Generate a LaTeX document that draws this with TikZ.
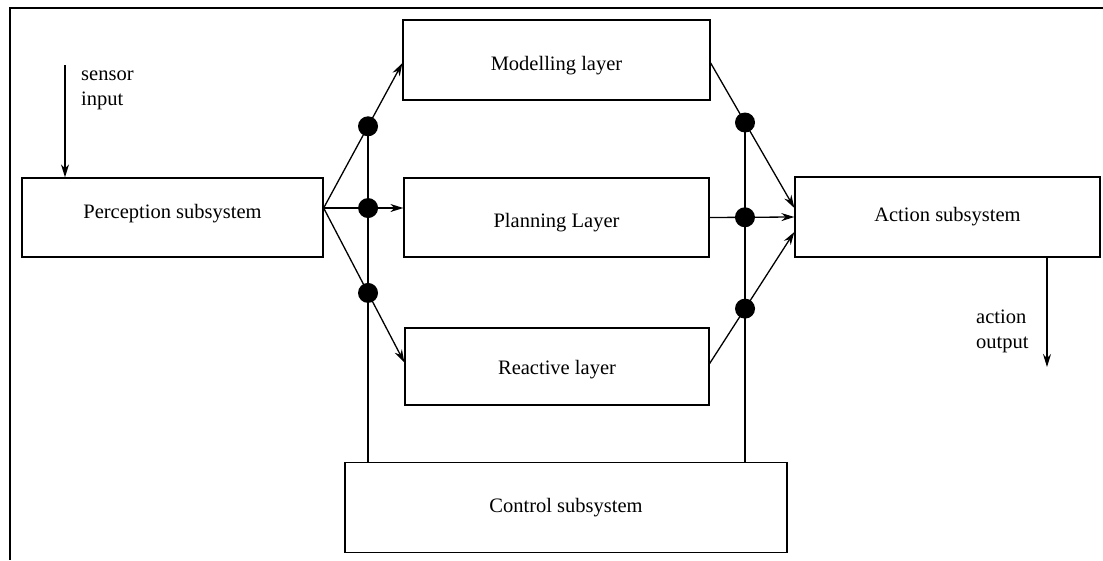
\documentclass[tikz,border=0pt]{standalone}
\usepackage{fontspec}
\setmainfont{Liberation Serif}
\usetikzlibrary{arrows.meta,calc}
\begin{document}
\begin{tikzpicture}[x=1pt,y=-1pt,
  box/.style={draw,line width=1.3pt,inner sep=0pt,font=\fontsize{20.5}{24}\selectfont},
  lower/.style={text height=25pt,text depth=4.5pt},
  lowerbit/.style={text height=20pt,text depth=4.5pt},
  raise/.style={text height=14pt,text depth=12pt},
  lbl/.style={inner sep=0pt,align=left,font=\fontsize{20.5}{25}\selectfont},
  conn/.style={line width=1.3pt},
  arr/.style={line width=1.3pt,-{Stealth[length=13pt,width=8pt]}},
  dotn/.style={circle,fill=black,inner sep=0pt,minimum size=20pt}]
\useasboundingbox (0,0) rectangle (1103,560);
% frame
\draw[line width=2pt] (10,560) -- (10,8) -- (1103,8);
% boxes
\node[box,lower,minimum width=307pt,minimum height=80pt] (mod) at (556.5,60) {Modelling layer};
\node[box,raise,minimum width=301pt,minimum height=79pt] (perc) at (172.5,217.5) {Perception subsystem};
\node[box,lower,minimum width=305pt,minimum height=79pt] (plan) at (556.5,217.5) {Planning Layer};
\node[box,lowerbit,minimum width=304pt,minimum height=77pt] (react) at (557,366.5) {Reactive layer};
\node[box,minimum width=305pt,minimum height=80pt] (act) at (947.5,217) {Action subsystem};
\node[box,minimum width=442pt,minimum height=90pt] (ctrl) at (566,507.5) {Control subsystem};
% helper coordinates
\coordinate (pout) at ($(perc.east)+(0,-9.5)$);
\coordinate (mw) at ($(mod.west)+(0,3)$);
\coordinate (pw) at (plan.west |- pout);
\coordinate (rw) at ($(react.west)+(0,-4)$);
\coordinate (me) at ($(mod.east)+(0,3)$);
\coordinate (pe) at (plan.east);
\coordinate (re) at ($(react.east)+(0,-3)$);
\coordinate (ain1) at ($(act.west)+(0,-9)$);
\coordinate (ain2) at (act.west);
\coordinate (ain3) at ($(act.west)+(0,15)$);
\coordinate (bLt) at (368,0);
\coordinate (bLb) at (368,600);
\coordinate (bRt) at (745,0);
\coordinate (bRb) at (745,600);
% connectors
\draw[arr] (pout) -- (mw);
\draw[arr] (pout) -- (pw);
\draw[arr] (pout) -- (rw);
\draw[arr] (me) -- (ain1);
\draw[arr] (pe) -- (ain2);
\draw[arr] (re) -- (ain3);
% dots
\node[dotn] (dl1) at (intersection of pout--mw and bLt--bLb) {};
\node[dotn] (dl2) at (intersection of pout--pw and bLt--bLb) {};
\node[dotn] (dl3) at (intersection of pout--rw and bLt--bLb) {};
\node[dotn] (dr1) at (intersection of me--ain1 and bRt--bRb) {};
\node[dotn] (dr2) at (intersection of pe--ain2 and bRt--bRb) {};
\node[dotn] (dr3) at (intersection of re--ain3 and bRt--bRb) {};
% buses
\draw[conn] (dl1.center) -- (dl1.center |- ctrl.north);
\draw[conn] (dr1.center) -- (dr1.center |- ctrl.north);
% sensor input
\coordinate (st) at (65,65);
\draw[arr] (st) -- (st |- perc.north);
\node[lbl,anchor=west] (sinl) at (81,90) {sensor\\input};
% action output
\coordinate (ao) at (1047,367);
\draw[arr] (act.south -| ao) -- (ao);
\node[lbl,anchor=west] (aol) at (976,331) {action\\output};
\end{tikzpicture}
\end{document}
